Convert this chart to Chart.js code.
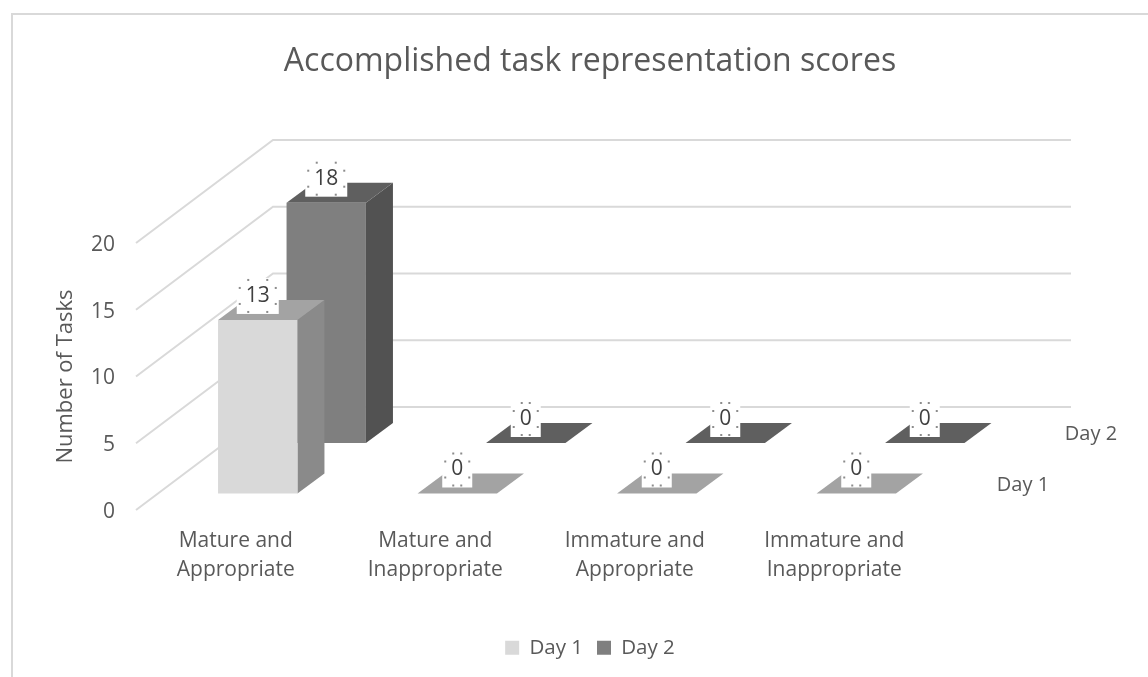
<!DOCTYPE html>
<html>
<head>
<meta charset="utf-8">
<title>Accomplished task representation scores</title>
<script src="https://cdn.jsdelivr.net/npm/chart.js@4"></script>
<style>
    html, body { margin: 0; padding: 0; background: #fff; }
    canvas { display: block; }
</style>
</head>
<body>
<canvas id="taskChart" width="1148" height="677"></canvas>
<script>
'use strict';
const categories = [
    ['Mature and', 'Appropriate'],
    ['Mature and', 'Inappropriate'],
    ['Immature and', 'Appropriate'],
    ['Immature and', 'Inappropriate']
];
const day1Values = [13, 0, 0, 0];
const day2Values = [18, 0, 0, 0];
const seriesNames = ['Day 1', 'Day 2'];
const yTicks = [0, 5, 10, 15, 20];

const textColor = '#595959';
const fontFamily = '"Open Sans", "Noto Sans", sans-serif';
const frontColors = ['#d9d9d9', '#7f7f7f'];
const sideColors = ['#8a8a8a', '#525252'];
const topColors = ['#a3a3a3', '#5f5f5f'];

// how the 3D look is laid out on the flat chart area
const wallDepth = {x: 137, y: -103};
const barDepth = {x: 27, y: -20};
const rowOffset = [{x: 22, y: -16.5}, {x: 90.5, y: -67}];
const rowLabelOffset = [{x: 89, y: -25}, {x: 157, y: -76}];

function polygon(ctx, points, color) {
    ctx.fillStyle = color;
    ctx.beginPath();
    points.forEach(function (p, i) {
        if (i === 0) {
            ctx.moveTo(p[0], p[1]);
        } else {
            ctx.lineTo(p[0], p[1]);
        }
    });
    ctx.closePath();
    ctx.fill();
}

function valueLabel(ctx, text, x, y) {
    ctx.font = '21px ' + fontFamily;
    const w = ctx.measureText(text).width;
    ctx.fillStyle = '#ffffff';
    ctx.fillRect(x - w / 2 - 9, y - 18, w + 18, 36);

    ctx.fillStyle = '#8c8c8c';
    const sideX = w / 2 + 6;
    const topX = Math.max(w / 2 - 2.5, 4);
    [[-topX, -16], [topX, -16], [-sideX, -8], [sideX, -8], [-sideX, 8], [sideX, 8], [-topX, 16], [topX, 16]].forEach(function (d) {
        ctx.fillRect(x + d[0] - 1, y + d[1] - 1, 2, 2);
    });

    ctx.fillStyle = '#404040';
    ctx.textAlign = 'center';
    ctx.textBaseline = 'middle';
    ctx.fillText(text, x, y);
}

const threeDPlugin = {
    id: 'threeD',
    beforeDraw: function (chart) {
        const ctx = chart.ctx;
        // frame of the original chart object, cut by the image on the right and bottom
        ctx.fillStyle = '#d9d9d9';
        ctx.fillRect(11, 13, chart.width - 11, 2);
        ctx.fillRect(11, 13, 2, chart.height - 13);
    },
    beforeDatasetsDraw: function (chart) {
        const ctx = chart.ctx;
        const area = chart.chartArea;
        const y = chart.scales.y;
        ctx.save();
        ctx.strokeStyle = '#d9d9d9';
        ctx.lineWidth = 2;
        yTicks.forEach(function (v) {
            const py = y.getPixelForValue(v);
            ctx.beginPath();
            ctx.moveTo(area.left, py);
            ctx.lineTo(area.left + wallDepth.x, py + wallDepth.y);
            ctx.lineTo(area.right + wallDepth.x, py + wallDepth.y);
            ctx.stroke();
        });
        ctx.restore();
    },
    beforeDatasetDraw: function (chart, args) {
        const ctx = chart.ctx;
        const i = args.index;
        ctx.save();
        ctx.translate(rowOffset[i].x, rowOffset[i].y);
        args.meta.data.forEach(function (bar) {
            const left = bar.x - bar.width / 2;
            const right = bar.x + bar.width / 2;
            polygon(ctx, [[right, bar.y], [right + barDepth.x, bar.y + barDepth.y], [right + barDepth.x, bar.base + barDepth.y], [right, bar.base]], sideColors[i]);
            polygon(ctx, [[left, bar.y], [left + barDepth.x, bar.y + barDepth.y], [right + barDepth.x, bar.y + barDepth.y], [right, bar.y]], topColors[i]);
        });
    },
    afterDatasetDraw: function (chart) {
        chart.ctx.restore();
    },
    afterDatasetsDraw: function (chart) {
        const ctx = chart.ctx;
        const area = chart.chartArea;
        const zero = chart.scales.y.getPixelForValue(0);
        ctx.save();
        [1, 0].forEach(function (i) {
            const meta = chart.getDatasetMeta(i);
            meta.data.forEach(function (bar, j) {
                const value = chart.data.datasets[i].data[j];
                valueLabel(ctx, String(value), bar.x + rowOffset[i].x, bar.y + rowOffset[i].y - 24);
            });
            // depth axis names
            ctx.font = '20px ' + fontFamily;
            ctx.fillStyle = textColor;
            ctx.textAlign = 'center';
            ctx.textBaseline = 'middle';
            ctx.fillText(seriesNames[i], area.right + rowLabelOffset[i].x, zero + rowLabelOffset[i].y);
        });
        ctx.restore();
    }
};

new Chart(document.getElementById('taskChart'), {
    type: 'bar',
    data: {
        labels: categories,
        datasets: [
            {label: seriesNames[0], data: day1Values, backgroundColor: frontColors[0], clip: false},
            {label: seriesNames[1], data: day2Values, backgroundColor: frontColors[1], clip: false}
        ]
    },
    plugins: [threeDPlugin],
    options: {
        responsive: false,
        animation: false,
        layout: {padding: {left: 32, right: 0, top: 0, bottom: 9}},
        datasets: {
            bar: {grouped: false, categoryPercentage: 1, barPercentage: 0.398}
        },
        scales: {
            x: {
                grid: {display: false},
                border: {display: false},
                ticks: {
                    color: textColor,
                    font: {family: fontFamily, size: 21, lineHeight: 1.38},
                    padding: 9,
                    maxRotation: 0,
                    autoSkip: false
                },
                afterFit: function (scale) {
                    scale.height = 113.5;
                }
            },
            y: {
                min: 0,
                max: 20,
                afterBuildTicks: function (scale) {
                    scale.ticks = yTicks.map(function (v) { return {value: v}; });
                },
                grid: {display: false},
                border: {display: false},
                ticks: {
                    color: textColor,
                    font: {family: fontFamily, size: 21},
                    padding: 13,
                    labelOffset: 2
                },
                title: {
                    display: true,
                    text: 'Number of Tasks',
                    color: textColor,
                    font: {family: fontFamily, size: 22},
                    padding: {top: 21, bottom: 0}
                },
                afterFit: function (scale) {
                    scale.width = 104;
                }
            },
            // empty axis that keeps the room for the depth of the chart on the right
            depth: {
                position: 'right',
                min: 0,
                max: 20,
                grid: {display: false},
                border: {display: false},
                ticks: {display: false},
                afterFit: function (scale) {
                    scale.width = 214;
                }
            }
        },
        plugins: {
            tooltip: {enabled: false},
            title: {
                display: true,
                text: 'Accomplished task representation scores',
                color: textColor,
                font: {family: fontFamily, size: 32, weight: 'normal', lineHeight: 1.2},
                padding: {top: 43, bottom: 161.6}
            },
            legend: {
                position: 'bottom',
                labels: {
                    color: textColor,
                    font: {family: fontFamily, size: 20.5},
                    boxWidth: 14,
                    boxHeight: 14,
                    padding: 14
                }
            }
        }
    }
});
</script>
</body>
</html>
